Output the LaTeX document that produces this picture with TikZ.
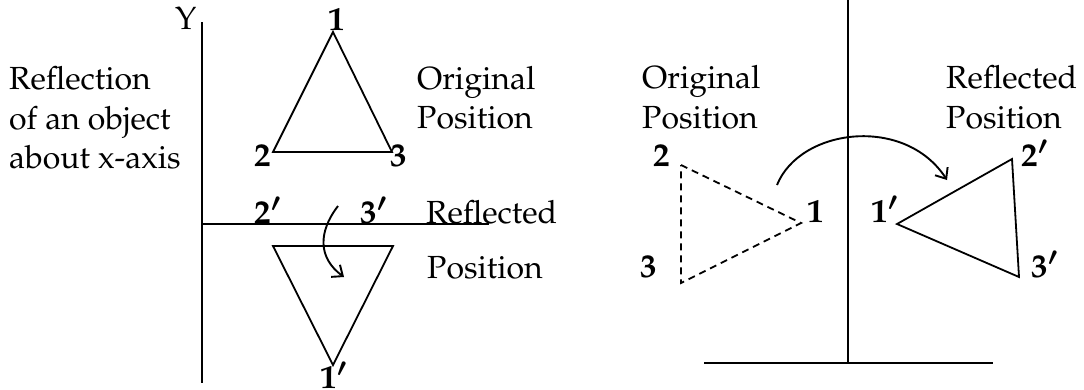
\documentclass[tikz,border=0pt]{standalone}
\usepackage[T1]{fontenc}
\usepackage{mathpazo}
\usetikzlibrary{arrows.meta}
\begin{document}
\begin{tikzpicture}[x=1pt,y=-1pt,
  txt/.style={font=\fontsize{32}{39}\selectfont, anchor=base west, inner sep=0pt},
  lbl/.style={font=\fontsize{33}{36}\selectfont\bfseries\boldmath, anchor=base west, inner sep=0pt},
  axisline/.style={line width=1.9pt},
  tri/.style={line width=1.8pt, line join=miter},
  dtri/.style={tri, dash pattern=on 7pt off 5pt},
  curvearrow/.style={-{Straight Barb[length=9pt,width=15pt]}, line width=1.9pt}]
\useasboundingbox (0,0) rectangle (1084,389);
% left axes
\coordinate (yTop) at (202,22);
\coordinate (yBot) at (202,383);
\coordinate (xL) at (202,224);
\coordinate (xR) at (489,224);
\draw[axisline] (yTop) -- (yBot);
\draw[axisline] (xL) -- (xR);
% upper triangle
\coordinate (a1) at (333,32);
\coordinate (a2) at (273,152);
\coordinate (a3) at (392,152);
\draw[tri] (a1) -- (a2) -- (a3) -- cycle;
% lower triangle
\coordinate (b1) at (333,365);
\coordinate (b2) at (273,246);
\coordinate (b3) at (393,246);
\draw[tri] (b1) -- (b2) -- (b3) -- cycle;
% arrow left
\coordinate (c1s) at (338,206);
\coordinate (c1e) at (344,277);
\draw[curvearrow] (c1s) .. controls (318,232) and (318,258) .. (c1e);
% right axes
\coordinate (vTop) at (848,0);
\coordinate (vBot) at (848,362);
\coordinate (hL) at (704,363);
\coordinate (hR) at (993,363);
\draw[axisline] (vTop) -- (vBot);
\draw[axisline] (hL) -- (hR);
% dashed triangle
\coordinate (d1) at (801,223);
\coordinate (d2) at (681,165);
\coordinate (d3) at (681,283);
\draw[dtri] (d2) -- (d1) -- (d3) -- cycle;
% reflected triangle
\coordinate (r1) at (897,224);
\coordinate (r2) at (1012,159);
\coordinate (r3) at (1019,277);
\draw[tri] (r1) -- (r2) -- (r3) -- cycle;
% arrow right
\coordinate (c2s) at (777,185);
\coordinate (c2e) at (947,180);
\draw[curvearrow] (c2s) .. controls (800,128) and (905,115) .. (c2e);
% labels
\node[txt] (ylab) at (175,29) {Y};
\node[lbl] (l1) at (328,30) {1};
\node[lbl] (l2) at (254,166) {2};
\node[lbl] (l3) at (390,166) {3};
\node[lbl] (l2p) at (254,223) {2$'$};
\node[lbl] (l3p) at (360,223) {3$'$};
\node[lbl] (l1p) at (320,388) {1$'$};
\node[lbl] (m2) at (653,166) {2};
\node[lbl] (m3) at (640,277) {3};
\node[lbl] (m1) at (807,222) {1};
\node[lbl] (m1p) at (871,222) {1$'$};
\node[lbl] (m2p) at (1021,166) {2$'$};
\node[lbl] (m3p) at (1031,277) {3$'$};
% texts
\node[txt] (t1) at (9,89) {Reflection};
\node[txt] (t2) at (9,129) {of an object};
\node[txt] (t3) at (9,168) {about x-axis};
\node[txt] (o1) at (417,89) {Original};
\node[txt] (o2) at (417,128) {Position};
\node[txt] (rf1) at (426,223) {Reflected};
\node[txt] (rf2) at (427,278) {Position};
\node[txt] (o3) at (642,88) {Original};
\node[txt] (o4) at (642,128) {Position};
\node[txt] (rf3) at (946,88) {Reflected};
\node[txt] (rf4) at (946,128) {Position};
\end{tikzpicture}
\end{document}
